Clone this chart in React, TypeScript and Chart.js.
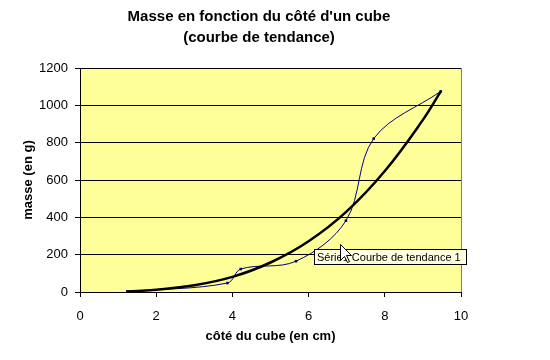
import React, { useEffect, useRef } from "react";
import { Chart, registerables } from "chart.js";

Chart.register(...registerables);

// Measured points (côté en cm, masse en g)
const sideCm = [1.24, 3.87, 4.22, 5.67, 6.98, 7.71, 9.47];
const massG = [3, 48, 123, 165, 382, 822, 1075];

// Trendline
const trendSide = [1.24, 2, 3, 4, 5, 6, 7, 8, 9, 9.47];
const trendMass = [3, 12, 36, 81, 158, 272, 432, 648, 922, 1075];

const titleLines = ["Masse en fonction du côté d'un cube", "(courbe de tendance)"];
const xTitle = "côté du cube (en cm)";
const yTitle = "masse (en g)";
const tipText = "Série1 Courbe de tendance 1";

const FONT = "'Liberation Sans', Arial, sans-serif";

const decor = {
  id: "decor",
  beforeDraw(chart: any) {
    const { ctx, chartArea } = chart;
    const { left, top, right, bottom } = chartArea;
    ctx.save();
    ctx.fillStyle = "#FFFF99";
    ctx.fillRect(left, top, right - left, bottom - top);
    ctx.strokeStyle = "#808080";
    ctx.lineWidth = 1;
    ctx.beginPath();
    ctx.moveTo(Math.round(right) + 0.5, top);
    ctx.lineTo(Math.round(right) + 0.5, bottom);
    ctx.stroke();
    ctx.restore();
  },
  afterDraw(chart: any) {
    const { ctx } = chart;
    ctx.save();
    // title
    ctx.fillStyle = "#000";
    ctx.font = `bold 15px ${FONT}`;
    ctx.textAlign = "center";
    ctx.textBaseline = "middle";
    ctx.fillText(titleLines[0], 259, 17);
    ctx.fillText(titleLines[1], 259, 38);

    // hover tooltip box
    ctx.fillStyle = "#FFFFE1";
    ctx.fillRect(314.5, 249.5, 152, 15);
    ctx.strokeStyle = "#000";
    ctx.lineWidth = 1;
    ctx.strokeRect(314.5, 249.5, 152, 15);
    ctx.fillStyle = "#000";
    ctx.font = `11px ${FONT}`;
    ctx.textAlign = "left";
    ctx.textBaseline = "middle";
    ctx.fillText(tipText, 317, 257.5);

    // mouse cursor
    const tx = 340.5, ty = 244.5;
    const pts = [[0, 0], [0, 16], [4, 12], [7, 18], [9, 17], [6, 11], [11, 11]];
    ctx.beginPath();
    pts.forEach(([dx, dy], i) => (i ? ctx.lineTo(tx + dx, ty + dy) : ctx.moveTo(tx + dx, ty + dy)));
    ctx.closePath();
    ctx.fillStyle = "#fff";
    ctx.fill();
    ctx.strokeStyle = "#000";
    ctx.stroke();
    ctx.restore();
  },
};

export default function App() {
  const ref = useRef<HTMLCanvasElement | null>(null);

  useEffect(() => {
    if (!ref.current) return;
    const chart = new Chart(ref.current, {
      type: "scatter",
      data: {
        datasets: [
          {
            label: "Courbe de tendance 1",
            data: trendSide.map((x, i) => ({ x, y: trendMass[i] })),
            showLine: true,
            borderColor: "#000000",
            borderWidth: 2.5,
            pointRadius: 0,
            tension: 0.4,
            order: 0,
          },
          {
            label: "Série1",
            data: sideCm.map((x, i) => ({ x, y: massG[i] })),
            showLine: true,
            borderColor: "#000080",
            backgroundColor: "#000080",
            borderWidth: 1,
            pointStyle: "rect",
            pointRadius: 1.8,
            pointBorderWidth: 0,
            tension: 0.35,
            order: 1,
          },
        ],
      },
      plugins: [decor],
      options: {
        responsive: false,
        animation: false,
        layout: { padding: { top: 68, right: 89, left: 0, bottom: 0 } },
        plugins: {
          legend: { display: false },
          tooltip: { enabled: false },
          title: { display: false },
        },
        scales: {
          x: {
            type: "linear",
            min: 0,
            max: 10,
            afterFit(scale: any) {
              scale.height = 68;
            },
            ticks: {
              stepSize: 2,
              color: "#000",
              padding: 12,
              font: { family: FONT, size: 13 },
              maxRotation: 0,
              callback: (v: any) => String(v),
            },
            grid: {
              drawOnChartArea: false,
              drawTicks: true,
              tickLength: 5,
              tickColor: "#000",
              color: "#000",
            },
            border: { display: true, color: "#000", width: 1 },
            title: {
              display: true,
              text: xTitle,
              color: "#000",
              font: { family: FONT, size: 13, weight: "bold" },
              padding: { top: 0, bottom: 16 },
            },
          },
          y: {
            type: "linear",
            min: 0,
            max: 1200,
            afterFit(scale: any) {
              scale.width = 80;
            },
            ticks: {
              stepSize: 200,
              color: "#000",
              padding: 7,
              font: { family: FONT, size: 13 },
              callback: (v: any) => String(v),
            },
            grid: {
              color: "#000",
              lineWidth: 1,
              tickLength: 5,
              tickColor: "#000",
            },
            border: { display: true, color: "#000", width: 1 },
            title: {
              display: true,
              text: yTitle,
              color: "#000",
              font: { family: FONT, size: 13, weight: "bold" },
              padding: { top: 21, bottom: 0 },
            },
          },
        },
      },
    } as any);
    return () => chart.destroy();
  }, []);

  return (
    <div style={{ position: "absolute", left: 0, top: 0, width: 550, height: 360, background: "#fff" }}>
      <canvas ref={ref} width={550} height={360} style={{ display: "block" }} />
    </div>
  );
}
